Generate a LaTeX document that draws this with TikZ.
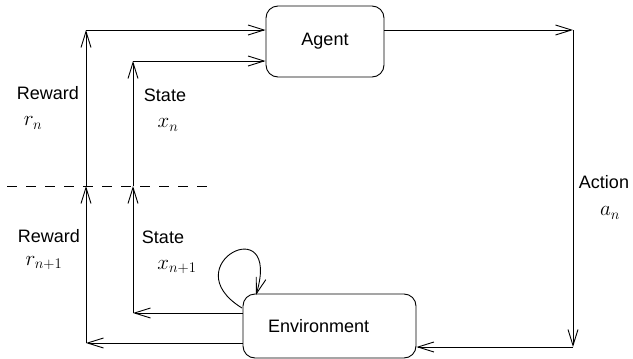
\RequirePackage{fix-cm}
\documentclass[tikz,border=0pt]{standalone}
\usepackage{fontspec}
\setmainfont{Liberation Sans}
\usetikzlibrary{arrows.meta}
\begin{document}
\begin{tikzpicture}[x=1pt,y=-1pt,
  every node/.style={font=\fontsize{18}{22}\selectfont},
  box/.style={draw,line width=0.9pt,rounded corners=12pt,inner sep=0pt},
  arr/.style={line width=0.9pt,-{Straight Barb[length=16pt,width=10pt,line width=0.9pt]}},
  lbl/.style={inner sep=0pt},
  mlbl/.style={inner sep=0pt,font=\fontsize{21}{25}\selectfont}]
\useasboundingbox (0,0) rectangle (633,359);
\node[box,minimum width=118pt,minimum height=71pt] (agent) at (325,41.5) {Agent};
\node[box,minimum height=64pt,text width=123pt,inner xsep=25pt,align=left] (env) at (329.5,326) {Environment};
\coordinate (aTop) at (573,30);
\coordinate (aBot) at (573,347);
\coordinate (rTop) at (86,30);
\coordinate (rMid) at (86,186);
\coordinate (rBot) at (86,343);
\coordinate (sTop) at (133,61);
\coordinate (sMid) at (133,186);
\coordinate (sBot) at (133,313);
\coordinate (dL) at (7,186);
\coordinate (dR) at (208,186);
\coordinate (lpA) at (242,308);
\coordinate (lpB) at (256,295);
% action
\draw[arr] (agent.east |- aTop) -- (aTop);
\draw[arr] (aTop) -- (aBot);
\draw[arr] (aBot) -- (env.east |- aBot);
% reward
\draw[arr] (env.west |- rBot) -- (rBot);
\draw[arr] (rBot) -- (rMid);
\draw[arr] (rMid) -- (rTop);
\draw[arr] (rTop) -- (agent.west |- rTop);
% state
\draw[arr] (env.west |- sBot) -- (sBot);
\draw[arr] (sBot) -- (sMid);
\draw[arr] (sMid) -- (sTop);
\draw[arr] (sTop) -- (agent.west |- sTop);
% loop
\draw[arr] (lpA) .. controls (172,265) and (282,208) .. (lpB);
% dashed separator
\draw[line width=0.9pt,dash pattern=on 10pt off 9pt] (dL) -- (dR);
% labels
\node[lbl] (rw1) at (48,93) {Reward};
\node[mlbl] (rn1) at (33,123) {$r_n$};
\node[lbl] (st1) at (165,95) {State};
\node[mlbl] (xn1) at (168,125) {$x_n$};
\node[lbl] (rw2) at (49,236) {Reward};
\node[mlbl] (rn2) at (44,263) {$r_{n+1}$};
\node[lbl] (st2) at (163,237) {State};
\node[mlbl] (xn2) at (177,267) {$x_{n+1}$};
\node[lbl] (act) at (604,182) {Action};
\node[mlbl] (an) at (610,213) {$a_n$};
\end{tikzpicture}
\end{document}
